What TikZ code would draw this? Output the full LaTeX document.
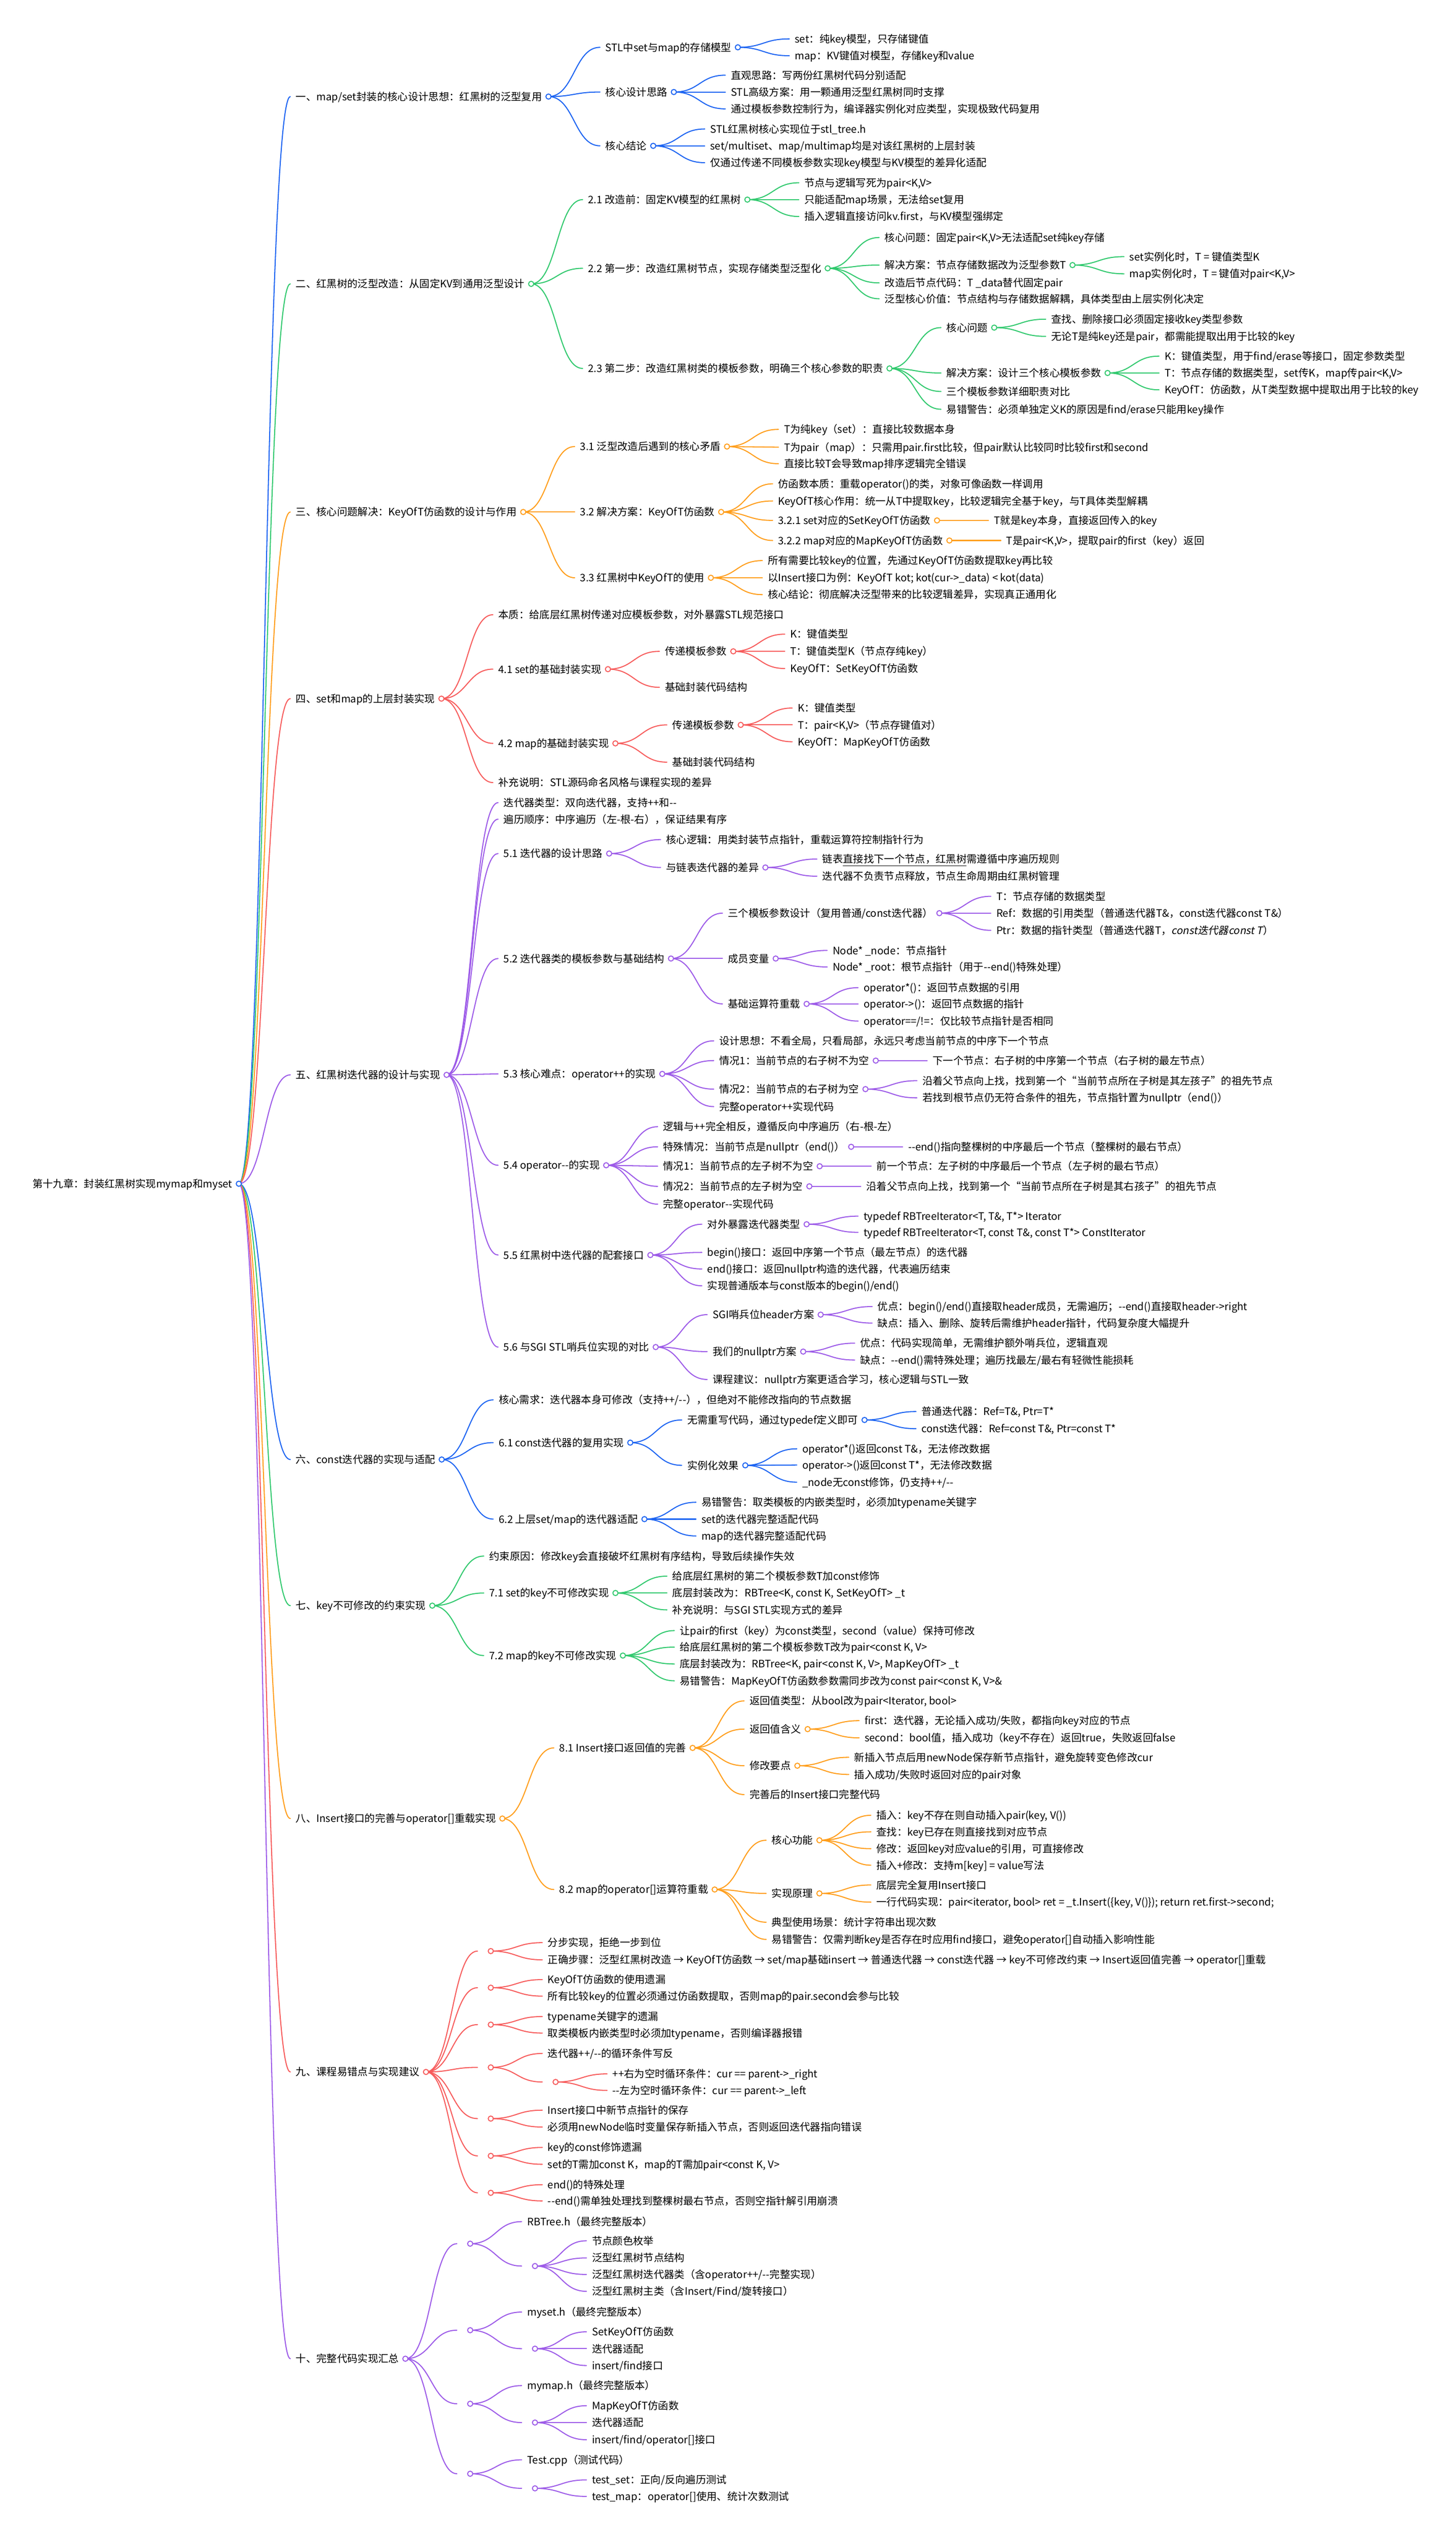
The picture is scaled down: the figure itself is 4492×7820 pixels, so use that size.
\documentclass[tikz,border=0pt]{standalone}
\usepackage{fontspec}
\newfontfamily\mmfont{Noto Sans CJK SC}
\newfontfamily\mmitfont{Noto Sans CJK SC}[FakeSlant=0.2]
\usetikzlibrary{calc}
\pgfdeclarelayer{bg}
\pgfsetlayers{bg,main}
\definecolor{mmblue}{HTML}{1C64F2}
\definecolor{mmgreen}{HTML}{31C96E}
\definecolor{mmorange}{HTML}{FF9E1B}
\definecolor{mmred}{HTML}{F75C5C}
\definecolor{mmpurple}{HTML}{9D5BE8}
\tikzset{
  mmtext/.style={anchor=west, inner sep=0pt, outer sep=0pt, text=black,
    font=\mmfont\fontsize{7.95pt}{10pt}\selectfont, text height=6.5pt, text depth=0.5pt},
  mmline/.style={line width=0.8pt, line cap=round},
  mmdot/.style={line width=0.75pt, fill=white},
}
\def\mmcol{mmblue}
% #1 name, #2 parent dot, #3 y, #4 text
\newcommand\mmleaf[4]{%
  \coordinate (tmpA) at ($(#2)+(176,0)$);
  \node[mmtext] (#1) at (tmpA |- 0,#3) {#4};
  \begin{pgfonlayer}{bg}
    \coordinate (tmpQ) at ($(#1.west)+(-17,0)$);
    \coordinate (tmpM) at ($(#2)!0.5!(tmpQ)$);
    \draw[mmline, draw=\mmcol] (#2) .. controls (tmpM |- #2) and (tmpM |- tmpQ) .. (tmpQ);
  \end{pgfonlayer}}
\newcommand\mmbranch[4]{%
  \mmleaf{#1}{#2}{#3}{#4}%
  \coordinate (#1dot) at ($(#1.east)+(20,0)$);
  \draw[mmdot, draw=\mmcol] (#1dot) circle[radius=8];}

\begin{document}
\begin{tikzpicture}[x=0.25pt, y=-0.25pt]
\begin{pgfonlayer}{bg}
  \fill[white] (0,0) rectangle (4492,7820);
\end{pgfonlayer}
\useasboundingbox (0,0) rectangle (4492,7820);
\coordinate (rootdot) at (737,3653);
\node[mmtext, anchor=east] (root) at (717,3653) {第十九章：封装红黑树实现mymap和myset};

% ---------- 1
\def\mmcol{mmblue}
\mmbranch{s1}{rootdot}{298}{一、map/set封装的核心设计思想：红黑树的泛型复用}
\mmbranch{s1a}{s1dot}{146}{STL中set与map的存储模型}
\mmleaf{s1a1}{s1adot}{120}{set：纯key模型，只存储键值}
\mmleaf{s1a2}{s1adot}{172}{map：KV键值对模型，存储key和value}
\mmbranch{s1b}{s1dot}{284}{核心设计思路}
\mmleaf{s1b1}{s1bdot}{232}{直观思路：写两份红黑树代码分别适配}
\mmleaf{s1b2}{s1bdot}{284}{STL高级方案：用一颗通用泛型红黑树同时支撑}
\mmleaf{s1b3}{s1bdot}{336}{通过模板参数控制行为，编译器实例化对应类型，实现极致代码复用}
\mmbranch{s1c}{s1dot}{450}{核心结论}
\mmleaf{s1c1}{s1cdot}{398}{STL红黑树核心实现位于stl\_tree.h}
\mmleaf{s1c2}{s1cdot}{450}{set/multiset、map/multimap均是对该红黑树的上层封装}
\mmleaf{s1c3}{s1cdot}{502}{仅通过传递不同模板参数实现key模型与KV模型的差异化适配}

% ---------- 2
\def\mmcol{mmgreen}
\mmbranch{s2}{rootdot}{876}{二、红黑树的泛型改造：从固定KV到通用泛型设计}
\mmbranch{s2a}{s2dot}{616}{2.1 改造前：固定KV模型的红黑树}
\mmleaf{s2a1}{s2adot}{564}{节点与逻辑写死为pair<K,V>}
\mmleaf{s2a2}{s2adot}{616}{只能适配map场景，无法给set复用}
\mmleaf{s2a3}{s2adot}{668}{插入逻辑直接访问kv.first，与KV模型强绑定}
\mmbranch{s2b}{s2dot}{828}{2.2 第一步：改造红黑树节点，实现存储类型泛型化}
\mmleaf{s2b1}{s2bdot}{733}{核心问题：固定pair<K,V>无法适配set纯key存储}
\mmbranch{s2bb}{s2bdot}{818}{解决方案：节点存储数据改为泛型参数T}
\mmleaf{s2bb1}{s2bbdot}{792}{set实例化时，T = 键值类型K}
\mmleaf{s2bb2}{s2bbdot}{845}{map实例化时，T = 键值对pair<K,V>}
\mmleaf{s2b3}{s2bdot}{873}{改造后节点代码：T \_data替代固定pair}
\mmleaf{s2b4}{s2bdot}{922}{泛型核心价值：节点结构与存储数据解耦，具体类型由上层实例化决定}
\mmbranch{s2c}{s2dot}{1137}{2.3 第二步：改造红黑树类的模板参数，明确三个核心参数的职责}
\mmbranch{s2ca}{s2cdot}{1011}{核心问题}
\mmleaf{s2ca1}{s2cadot}{985}{查找、删除接口必须固定接收key类型参数}
\mmleaf{s2ca2}{s2cadot}{1038}{无论T是纯key还是pair，都需能提取出用于比较的key}
\mmbranch{s2cb}{s2cdot}{1151}{解决方案：设计三个核心模板参数}
\mmleaf{s2cb1}{s2cbdot}{1099}{K：键值类型，用于find/erase等接口，固定参数类型}
\mmleaf{s2cb2}{s2cbdot}{1151}{T：节点存储的数据类型，set传K，map传pair<K,V>}
\mmleaf{s2cb3}{s2cbdot}{1203}{KeyOfT：仿函数，从T类型数据中提取出用于比较的key}
\mmleaf{s2c3}{s2cdot}{1208}{三个模板参数详细职责对比}
\mmleaf{s2c4}{s2cdot}{1263}{易错警告：必须单独定义K的原因是find/erase只能用key操作}

% ---------- 3
\def\mmcol{mmorange}
\mmbranch{s3}{rootdot}{1580}{三、核心问题解决：KeyOfT仿函数的设计与作用}
\mmbranch{s3a}{s3dot}{1378}{3.1 泛型改造后遇到的核心矛盾}
\mmleaf{s3a1}{s3adot}{1325}{T为纯key（set）：直接比较数据本身}
\mmleaf{s3a2}{s3adot}{1380}{T为pair（map）：只需用pair.first比较，但pair默认比较同时比较first和second}
\mmleaf{s3a3}{s3adot}{1431}{直接比较T会导致map排序逻辑完全错误}
\mmbranch{s3b}{s3dot}{1580}{3.2 解决方案：KeyOfT仿函数}
\mmleaf{s3b1}{s3bdot}{1493}{仿函数本质：重载operator()的类，对象可像函数一样调用}
\mmleaf{s3b2}{s3bdot}{1546}{KeyOfT核心作用：统一从T中提取key，比较逻辑完全基于key，与T具体类型解耦}
\mmbranch{s3bc}{s3bdot}{1606}{3.2.1 set对应的SetKeyOfT仿函数}
\mmleaf{s3bc1}{s3bcdot}{1606}{T就是key本身，直接返回传入的key}
\mmbranch{s3bd}{s3bdot}{1668}{3.2.2 map对应的MapKeyOfT仿函数}
\mmleaf{s3bd1}{s3bddot}{1668}{T是pair<K,V>，提取pair的first（key）返回}
\mmbranch{s3c}{s3dot}{1783}{3.3 红黑树中KeyOfT的使用}
\mmleaf{s3c1}{s3cdot}{1730}{所有需要比较key的位置，先通过KeyOfT仿函数提取key再比较}
\mmleaf{s3c2}{s3cdot}{1783}{以Insert接口为例：KeyOfT kot; kot(cur->\_data) < kot(data)}
\mmleaf{s3c3}{s3cdot}{1835}{核心结论：彻底解决泛型带来的比较逻辑差异，实现真正通用化}

% ---------- 4
\def\mmcol{mmred}
\mmbranch{s4}{rootdot}{2156}{四、set和map的上层封装实现}
\mmleaf{s4a}{s4dot}{1897}{本质：给底层红黑树传递对应模板参数，对外暴露STL规范接口}
\mmbranch{s4b}{s4dot}{2065}{4.1 set的基础封装实现}
\mmbranch{s4ba}{s4bdot}{2010}{传递模板参数}
\mmleaf{s4ba1}{s4badot}{1957}{K：键值类型}
\mmleaf{s4ba2}{s4badot}{2010}{T：键值类型K（节点存纯key）}
\mmleaf{s4ba3}{s4badot}{2063}{KeyOfT：SetKeyOfT仿函数}
\mmleaf{s4bb}{s4bdot}{2121}{基础封装代码结构}
\mmbranch{s4c}{s4dot}{2294}{4.2 map的基础封装实现}
\mmbranch{s4ca}{s4cdot}{2237}{传递模板参数}
\mmleaf{s4ca1}{s4cadot}{2185}{K：键值类型}
\mmleaf{s4ca2}{s4cadot}{2237}{T：pair<K,V>（节点存键值对）}
\mmleaf{s4ca3}{s4cadot}{2289}{KeyOfT：MapKeyOfT仿函数}
\mmleaf{s4cb}{s4cdot}{2352}{基础封装代码结构}
\mmleaf{s4d}{s4dot}{2415}{补充说明：STL源码命名风格与课程实现的差异}

% ---------- 5
\def\mmcol{mmpurple}
\mmbranch{s5}{rootdot}{3317}{五、红黑树迭代器的设计与实现}
\mmleaf{s5a}{s5dot}{2477}{迭代器类型：双向迭代器，支持++和--}
\mmleaf{s5b}{s5dot}{2528}{遍历顺序：中序遍历（左-根-右），保证结果有序}
\mmbranch{s5c}{s5dot}{2634}{5.1 迭代器的设计思路}
\mmleaf{s5c1}{s5cdot}{2591}{核心逻辑：用类封装节点指针，重载运算符控制指针行为}
\mmbranch{s5cb}{s5cdot}{2677}{与链表迭代器的差异}
\mmleaf{s5cb1}{s5cbdot}{2651}{链表\underline{直接找下一个节点，红黑树}需遵循中序遍历规则}
\mmleaf{s5cb2}{s5cbdot}{2704}{迭代器不负责节点释放，节点生命周期由红黑树管理}
\mmbranch{s5d}{s5dot}{2958}{5.2 迭代器类的模板参数与基础结构}
\mmbranch{s5da}{s5ddot}{2818}{三个模板参数设计（复用普通/const迭代器）}
\mmleaf{s5da1}{s5dadot}{2766}{T：节点存储的数据类型}
\mmleaf{s5da2}{s5dadot}{2818}{Ref：数据的引用类型（普通迭代器T\&，const迭代器const T\&）}
\mmleaf{s5da3}{s5dadot}{2871}{Ptr：数据的指针类型（普通迭代器T，{\mmitfont const迭代器const T}）}
\mmbranch{s5db}{s5ddot}{2958}{成员变量}
\mmleaf{s5db1}{s5dbdot}{2933}{Node* \_node：节点指针}
\mmleaf{s5db2}{s5dbdot}{2984}{Node* \_root：根节点指针（用于--end()特殊处理）}
\mmbranch{s5dc}{s5ddot}{3098}{基础运算符重载}
\mmleaf{s5dc1}{s5dcdot}{3048}{operator*()：返回节点数据的引用}
\mmleaf{s5dc2}{s5dcdot}{3098}{operator->()：返回节点数据的指针}
\mmleaf{s5dc3}{s5dcdot}{3151}{operator==/!=：仅比较节点指针是否相同}
\mmbranch{s5e}{s5dot}{3314}{5.3 核心难点：operator++的实现}
\mmleaf{s5e1}{s5edot}{3212}{设计思想：不看全局，只看局部，永远只考虑当前节点的中序下一个节点}
\mmbranch{s5eb}{s5edot}{3273}{情况1：当前节点的右子树不为空}
\mmleaf{s5eb1}{s5ebdot}{3273}{下一个节点：右子树的中序第一个节点（右子树的最左节点）}
\mmbranch{s5ec}{s5edot}{3361}{情况2：当前节点的右子树为空}
\mmleaf{s5ec1}{s5ecdot}{3335}{沿着父节点向上找，找到第一个“当前节点所在子树是其左孩子”的祖先节点}
\mmleaf{s5ec2}{s5ecdot}{3388}{若找到根节点仍无符合条件的祖先，节点指针置为nullptr（end()）}
\mmleaf{s5e4}{s5edot}{3415}{完整operator++实现代码}
\mmbranch{s5f}{s5dot}{3596}{5.4 operator--的实现}
\mmleaf{s5f1}{s5fdot}{3477}{逻辑与++完全相反，遵循反向中序遍历（右-根-左）}
\mmbranch{s5fb}{s5fdot}{3539}{特殊情况：当前节点是nullptr（end()）}
\mmleaf{s5fb1}{s5fbdot}{3539}{--end()指向整棵树的中序最后一个节点（整棵树的最右节点）}
\mmbranch{s5fc}{s5fdot}{3599}{情况1：当前节点的左子树不为空}
\mmleaf{s5fc1}{s5fcdot}{3599}{前一个节点：左子树的中序最后一个节点（左子树的最右节点）}
\mmbranch{s5fd}{s5fdot}{3661}{情况2：当前节点的左子树为空}
\mmleaf{s5fd1}{s5fddot}{3661}{沿着父节点向上找，找到第一个“当前节点所在子树是其右孩子”的祖先节点}
\mmleaf{s5f5}{s5fdot}{3716}{完整operator--实现代码}
\mmbranch{s5g}{s5dot}{3873}{5.5 红黑树中迭代器的配套接口}
\mmbranch{s5ga}{s5gdot}{3778}{对外暴露迭代器类型}
\mmleaf{s5ga1}{s5gadot}{3753}{typedef RBTreeIterator<T, T\&, T*> Iterator}
\mmleaf{s5ga2}{s5gadot}{3803}{typedef RBTreeIterator<T, const T\&, const T*> ConstIterator}
\mmleaf{s5g2}{s5gdot}{3865}{begin()接口：返回中序第一个节点（最左节点）的迭代器}
\mmleaf{s5g3}{s5gdot}{3916}{end()接口：返回nullptr构造的迭代器，代表遍历结束}
\mmleaf{s5g4}{s5gdot}{3968}{实现普通版本与const版本的begin()/end()}
\mmbranch{s5h}{s5dot}{4157}{5.6 与SGI STL哨兵位实现的对比}
\mmbranch{s5ha}{s5hdot}{4057}{SGI哨兵位header方案}
\mmleaf{s5ha1}{s5hadot}{4032}{优点：begin()/end()直接取header成员，无需遍历；--end()直接取header->right}
\mmleaf{s5ha2}{s5hadot}{4083}{缺点：插入、删除、旋转后需维护header指针，代码复杂度大幅提升}
\mmbranch{s5hb}{s5hdot}{4171}{我们的nullptr方案}
\mmleaf{s5hb1}{s5hbdot}{4145}{优点：代码实现简单，无需维护额外哨兵位，逻辑直观}
\mmleaf{s5hb2}{s5hbdot}{4197}{缺点：--end()需特殊处理；遍历找最左/最右有轻微性能损耗}
\mmleaf{s5h3}{s5hdot}{4257}{课程建议：nullptr方案更适合学习，核心逻辑与STL一致}

% ---------- 6
\def\mmcol{mmblue}
\mmbranch{s6}{rootdot}{4504}{六、const迭代器的实现与适配}
\mmleaf{s6a}{s6dot}{4320}{核心需求：迭代器本身可修改（支持++/--），但绝对不能修改指向的节点数据}
\mmbranch{s6b}{s6dot}{4452}{6.1 const迭代器的复用实现}
\mmbranch{s6ba}{s6bdot}{4382}{无需重写代码，通过typedef定义即可}
\mmleaf{s6ba1}{s6badot}{4356}{普通迭代器：Ref=T\&, Ptr=T*}
\mmleaf{s6ba2}{s6badot}{4409}{const迭代器：Ref=const T\&, Ptr=const T*}
\mmbranch{s6bb}{s6bdot}{4522}{实例化效果}
\mmleaf{s6bb1}{s6bbdot}{4471}{operator*()返回const T\&，无法修改数据}
\mmleaf{s6bb2}{s6bbdot}{4521}{operator->()返回const T*，无法修改数据}
\mmleaf{s6bb3}{s6bbdot}{4574}{\_node无const修饰，仍支持++/--}
\mmbranch{s6c}{s6dot}{4688}{6.2 上层set/map的迭代器适配}
\mmleaf{s6c1}{s6cdot}{4636}{易错警告：取类模板的内嵌类型时，必须加typename关键字}
\mmleaf{s6c2}{s6cdot}{4688}{set的迭代器完整适配代码}
\mmleaf{s6c3}{s6cdot}{4740}{map的迭代器完整适配代码}

% ---------- 7
\def\mmcol{mmgreen}
\mmbranch{s7}{rootdot}{4955}{七、key不可修改的约束实现}
\mmleaf{s7a}{s7dot}{4802}{约束原因：修改key会直接破坏红黑树有序结构，导致后续操作失效}
\mmbranch{s7b}{s7dot}{4916}{7.1 set的key不可修改实现}
\mmleaf{s7b1}{s7bdot}{4864}{给底层红黑树的第二个模板参数T加const修饰}
\mmleaf{s7b2}{s7bdot}{4916}{底层封装改为：RBTree<K, const K, SetKeyOfT> \_t}
\mmleaf{s7b3}{s7bdot}{4968}{补充说明：与SGI STL实现方式的差异}
\mmbranch{s7c}{s7dot}{5109}{7.2 map的key不可修改实现}
\mmleaf{s7c1}{s7cdot}{5032}{让pair的first（key）为const类型，second（value）保持可修改}
\mmleaf{s7c2}{s7cdot}{5083}{给底层红黑树的第二个模板参数T改为pair<const K, V>}
\mmleaf{s7c3}{s7cdot}{5135}{底层封装改为：RBTree<K, pair<const K, V>, MapKeyOfT> \_t}
\mmleaf{s7c4}{s7cdot}{5187}{易错警告：MapKeyOfT仿函数参数需同步改为const pair<const K, V>\&}

% ---------- 8
\def\mmcol{mmorange}
\mmbranch{s8}{rootdot}{5612}{八、Insert接口的完善与operator[]重载实现}
\mmbranch{s8a}{s8dot}{5394}{8.1 Insert接口返回值的完善}
\mmleaf{s8a1}{s8adot}{5249}{返回值类型：从bool改为pair<Iterator, bool>}
\mmbranch{s8ab}{s8adot}{5336}{返回值含义}
\mmleaf{s8ab1}{s8abdot}{5310}{first：迭代器，无论插入成功/失败，都指向key对应的节点}
\mmleaf{s8ab2}{s8abdot}{5363}{second：bool值，插入成功（key不存在）返回true，失败返回false}
\mmbranch{s8ac}{s8adot}{5449}{修改要点}
\mmleaf{s8ac1}{s8acdot}{5423}{新插入节点后用newNode保存新节点指针，避免旋转变色修改cur}
\mmleaf{s8ac2}{s8acdot}{5476}{插入成功/失败时返回对应的pair对象}
\mmleaf{s8a4}{s8adot}{5538}{完善后的Insert接口完整代码}
\mmbranch{s8b}{s8dot}{5831}{8.2 map的operator[]运算符重载}
\mmbranch{s8ba}{s8bdot}{5679}{核心功能}
\mmleaf{s8ba1}{s8badot}{5602}{插入：key不存在则自动插入pair(key, V())}
\mmleaf{s8ba2}{s8badot}{5653}{查找：key已存在则直接找到对应节点}
\mmleaf{s8ba3}{s8badot}{5705}{修改：返回key对应value的引用，可直接修改}
\mmleaf{s8ba4}{s8badot}{5756}{插入+修改：支持m[key] = value写法}
\mmbranch{s8bb}{s8bdot}{5843}{实现原理}
\mmleaf{s8bb1}{s8bbdot}{5817}{底层完全复用Insert接口}
\mmleaf{s8bb2}{s8bbdot}{5870}{一行代码实现：pair<iterator, bool> ret = \_t.Insert(\{key, V()\}); return ret.first->second;}
\mmleaf{s8b3}{s8bdot}{5932}{典型使用场景：统计字符串出现次数}
\mmleaf{s8b4}{s8bdot}{5985}{易错警告：仅需判断key是否存在时应用find接口，避免operator[]自动插入影响性能}

% ---------- 9
\def\mmcol{mmred}
\mmbranch{s9}{rootdot}{6394}{九、课程易错点与实现建议}
\mmbranch{s9a}{s9dot}{6021}{}
\mmleaf{s9a1}{s9adot}{5995}{分步实现，拒绝一步到位}
\mmleaf{s9a2}{s9adot}{6048}{正确步骤：泛型红黑树改造 → KeyOfT仿函数 → set/map基础insert → 普通迭代器 → const迭代器 → key不可修改约束 → Insert返回值完善 → operator[]重载}
\mmbranch{s9b}{s9dot}{6134}{}
\mmleaf{s9b1}{s9bdot}{6109}{KeyOfT仿函数的使用遗漏}
\mmleaf{s9b2}{s9bdot}{6160}{所有比较key的位置必须通过仿函数提取，否则map的pair.second会参与比较}
\mmbranch{s9c}{s9dot}{6248}{}
\mmleaf{s9c1}{s9cdot}{6223}{typename关键字的遗漏}
\mmleaf{s9c2}{s9cdot}{6274}{取类模板内嵌类型时必须加typename，否则编译器报错}
\mmbranch{s9d}{s9dot}{6380}{}
\mmleaf{s9d1}{s9ddot}{6337}{迭代器++/--的循环条件写反}
\mmbranch{s9db}{s9ddot}{6425}{}
\mmleaf{s9db1}{s9dbdot}{6400}{++右为空时循环条件：cur == parent->\_right}
\mmleaf{s9db2}{s9dbdot}{6451}{--左为空时循环条件：cur == parent->\_left}
\mmbranch{s9e}{s9dot}{6538}{}
\mmleaf{s9e1}{s9edot}{6512}{Insert接口中新节点指针的保存}
\mmleaf{s9e2}{s9edot}{6564}{必须用newNode临时变量保存新插入节点，否则返回迭代器指向错误}
\mmbranch{s9f}{s9dot}{6653}{}
\mmleaf{s9f1}{s9fdot}{6627}{key的const修饰遗漏}
\mmleaf{s9f2}{s9fdot}{6679}{set的T需加const K，map的T需加pair<const K, V>}
\mmbranch{s9g}{s9dot}{6767}{}
\mmleaf{s9g1}{s9gdot}{6742}{end()的特殊处理}
\mmleaf{s9g2}{s9gdot}{6792}{--end()需单独处理找到整棵树最右节点，否则空指针解引用崩溃}

% ---------- 10
\def\mmcol{mmpurple}
\mmbranch{s10}{rootdot}{7279}{十、完整代码实现汇总}
\mmbranch{s10a}{s10dot}{6924}{}
\mmleaf{s10a1}{s10adot}{6856}{RBTree.h（最终完整版本）}
\mmbranch{s10ab}{s10adot}{6993}{}
\mmleaf{s10ab1}{s10abdot}{6915}{节点颜色枚举}
\mmleaf{s10ab2}{s10abdot}{6968}{泛型红黑树节点结构}
\mmleaf{s10ab3}{s10abdot}{7019}{泛型红黑树迭代器类（含operator++/--完整实现）}
\mmleaf{s10ab4}{s10abdot}{7071}{泛型红黑树主类（含Insert/Find/旋转接口）}
\mmbranch{s10b}{s10dot}{7191}{}
\mmleaf{s10b1}{s10bdot}{7135}{myset.h（最终完整版本）}
\mmbranch{s10bb}{s10bdot}{7248}{}
\mmleaf{s10bb1}{s10bbdot}{7196}{SetKeyOfT仿函数}
\mmleaf{s10bb2}{s10bbdot}{7248}{迭代器适配}
\mmleaf{s10bb3}{s10bbdot}{7300}{insert/find接口}
\mmbranch{s10c}{s10dot}{7418}{}
\mmleaf{s10c1}{s10cdot}{7362}{mymap.h（最终完整版本）}
\mmbranch{s10cb}{s10cdot}{7476}{}
\mmleaf{s10cb1}{s10cbdot}{7424}{MapKeyOfT仿函数}
\mmleaf{s10cb2}{s10cbdot}{7476}{迭代器适配}
\mmleaf{s10cb3}{s10cbdot}{7529}{insert/find/operator[]接口}
\mmbranch{s10d}{s10dot}{7634}{}
\mmleaf{s10d1}{s10ddot}{7591}{Test.cpp（测试代码）}
\mmbranch{s10db}{s10ddot}{7679}{}
\mmleaf{s10db1}{s10dbdot}{7653}{test\_set：正向/反向遍历测试}
\mmleaf{s10db2}{s10dbdot}{7704}{test\_map：operator[]使用、统计次数测试}

% root dot on top
\draw[mmdot, draw=mmblue] (rootdot) circle[radius=8];
\end{tikzpicture}
\end{document}
